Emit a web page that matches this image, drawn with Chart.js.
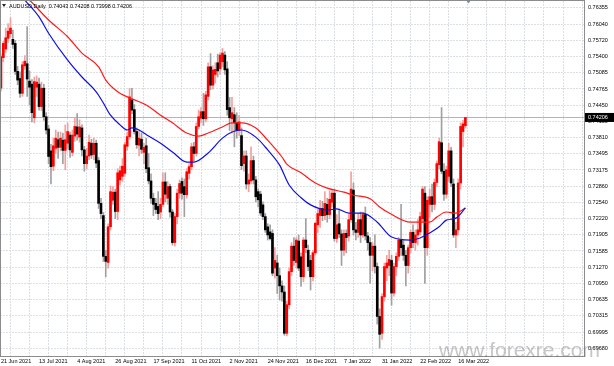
<!DOCTYPE html>
<html>
<head>
<meta charset="utf-8">
<script src="https://cdn.jsdelivr.net/npm/chart.js@4.4.1/dist/chart.umd.min.js"></script>
<style>
  html, body { margin: 0; padding: 0; background: #fff; }
  #wrap { width: 614px; height: 366px; }
</style>
</head>
<body>
<div id="wrap"><canvas id="chart" width="614" height="366"></canvas></div>
<script>
// header text and axis labels
const symbolTitle = "AUDUSD,Daily  0.74043 0.74208 0.73998 0.74206";
const dateLabels = ["21 Jun 2021", "13 Jul 2021", "4 Aug 2021", "26 Aug 2021", "17 Sep 2021",
  "11 Oct 2021", "2 Nov 2021", "24 Nov 2021", "16 Dec 2021", "7 Jan 2022",
  "31 Jan 2022", "22 Feb 2022", "16 Mar 2022"];
const priceTicks = [0.76355, 0.76040, 0.75720, 0.75400, 0.75085, 0.74765, 0.74450, 0.74130,
  0.73810, 0.73495, 0.73175, 0.72860, 0.72540, 0.72220, 0.71905, 0.71585, 0.71270,
  0.70950, 0.70635, 0.70315, 0.69995, 0.69680];
const lastPrice = 0.74206;

// daily candles, one per trading day from 21 Jun 2021 to 21 Mar 2022
const opens = [
  0.7478, 0.7538, 0.7555, 0.7576, 0.7585, 0.7574, 0.7566, 0.7511, 0.7497, 0.7468,
  0.7522, 0.7526, 0.7492, 0.7486, 0.7420, 0.7480, 0.7486, 0.7442, 0.7478, 0.7422,
  0.7398, 0.7355, 0.7325, 0.7360, 0.7377, 0.7362, 0.7376, 0.7356, 0.7370, 0.7386,
  0.7352, 0.7384, 0.7402, 0.7382, 0.7400, 0.7357, 0.7330, 0.7345, 0.7370, 0.7348,
  0.7370, 0.7336, 0.7252, 0.7228, 0.7148, 0.7136, 0.7206, 0.7258, 0.7274, 0.7236,
  0.7298, 0.7305, 0.7311, 0.7364, 0.7383, 0.7455, 0.7436, 0.7393, 0.7366, 0.7378,
  0.7352, 0.7365, 0.7322, 0.7296, 0.7262, 0.7252, 0.7246, 0.7235, 0.7250, 0.7294,
  0.7262, 0.7285, 0.7235, 0.7175, 0.7226, 0.7272, 0.7295, 0.7285, 0.7269, 0.7311,
  0.7324, 0.7363, 0.7350, 0.7403, 0.7419, 0.7432, 0.7418, 0.7462, 0.7520, 0.7484,
  0.7505, 0.7528, 0.7516, 0.7530, 0.7543, 0.7516, 0.7440, 0.7418, 0.7426, 0.7410,
  0.7395, 0.7385, 0.7330, 0.7345, 0.7290, 0.7296, 0.7336, 0.7298, 0.7275, 0.7270,
  0.7249, 0.7226, 0.7206, 0.7196, 0.7193, 0.7125, 0.7135, 0.7110, 0.7090, 0.7078,
  0.6997, 0.7053, 0.7118, 0.7168, 0.7136, 0.7178, 0.7147, 0.7108, 0.7180, 0.7160,
  0.7140, 0.7108, 0.7155, 0.7210, 0.7228, 0.7242, 0.7228, 0.7250, 0.7230, 0.7254,
  0.7272, 0.7183, 0.7212, 0.7192, 0.7160, 0.7193, 0.7188, 0.7220, 0.7278, 0.7200,
  0.7195, 0.7220, 0.7190, 0.7230, 0.7188, 0.7175, 0.7150, 0.7168, 0.7128, 0.7030,
  0.6997, 0.7069, 0.7125, 0.7130, 0.7140, 0.7076, 0.7128, 0.7148, 0.7180, 0.7170,
  0.7150, 0.7130, 0.7165, 0.7195, 0.7175, 0.7190, 0.7196, 0.7222, 0.7272, 0.7165,
  0.7250, 0.7265, 0.7250, 0.7293, 0.7328, 0.7371, 0.7315, 0.7270, 0.7305, 0.7355,
  0.7290, 0.7190, 0.7200, 0.7292, 0.7393, 0.74043
];
const highs = [
  0.7545, 0.7570, 0.7596, 0.7605, 0.7616, 0.7592, 0.7572, 0.7521, 0.7510, 0.7530,
  0.7542, 0.7599, 0.7512, 0.7495, 0.7500, 0.7502, 0.7498, 0.7490, 0.7486, 0.7430,
  0.7405, 0.7368, 0.7380, 0.7396, 0.7392, 0.7392, 0.7390, 0.7406, 0.7410, 0.7392,
  0.7396, 0.7420, 0.7428, 0.7416, 0.7406, 0.7364, 0.7360, 0.7386, 0.7378, 0.7380,
  0.7376, 0.7342, 0.7262, 0.7234, 0.7160, 0.7212, 0.7286, 0.7285, 0.7280, 0.7320,
  0.7325, 0.7340, 0.7372, 0.7392, 0.7478, 0.7478, 0.7446, 0.7400, 0.7395, 0.7390,
  0.7370, 0.7380, 0.7350, 0.7310, 0.7272, 0.7262, 0.7275, 0.7262, 0.7312, 0.7312,
  0.7295, 0.7290, 0.7240, 0.7232, 0.7280, 0.7298, 0.7302, 0.7300, 0.7320, 0.7330,
  0.7370, 0.7372, 0.7410, 0.7435, 0.7440, 0.7468, 0.7472, 0.7528, 0.7546, 0.7522,
  0.7528, 0.7545, 0.7548, 0.7556, 0.7550, 0.7530, 0.7460, 0.7460, 0.7440, 0.7430,
  0.7425, 0.7400, 0.7355, 0.7355, 0.7310, 0.7363, 0.7345, 0.7305, 0.7280, 0.7276,
  0.7255, 0.7232, 0.7212, 0.7210, 0.7200, 0.7165, 0.7150, 0.7125, 0.7100, 0.7090,
  0.7060, 0.7125, 0.7175, 0.7185, 0.7185, 0.7190, 0.7155, 0.7185, 0.7222, 0.7170,
  0.7150, 0.7160, 0.7215, 0.7240, 0.7258, 0.7256, 0.7275, 0.7262, 0.7277, 0.7278,
  0.7280, 0.7230, 0.7240, 0.7200, 0.7200, 0.7200, 0.7230, 0.7314, 0.7292, 0.7215,
  0.7232, 0.7235, 0.7235, 0.7245, 0.7195, 0.7185, 0.7175, 0.7190, 0.7135, 0.7045,
  0.7075, 0.7135, 0.7150, 0.7160, 0.7150, 0.7135, 0.7155, 0.7185, 0.7250, 0.7180,
  0.7160, 0.7170, 0.7200, 0.7210, 0.7200, 0.7220, 0.7235, 0.7285, 0.7285, 0.7265,
  0.7280, 0.7290, 0.7300, 0.7335, 0.7380, 0.7440, 0.7330, 0.7325, 0.7370, 0.7362,
  0.7300, 0.7215, 0.7300, 0.7410, 0.7415, 0.74208
];
const lows = [
  0.7472, 0.7530, 0.7548, 0.7568, 0.7578, 0.7556, 0.7505, 0.7485, 0.7460, 0.7462,
  0.7515, 0.7462, 0.7445, 0.7412, 0.7410, 0.7462, 0.7435, 0.7434, 0.7415, 0.7388,
  0.7330, 0.7290, 0.7316, 0.7350, 0.7340, 0.7355, 0.7330, 0.7318, 0.7360, 0.7342,
  0.7345, 0.7374, 0.7376, 0.7372, 0.7345, 0.7315, 0.7320, 0.7338, 0.7340, 0.7338,
  0.7322, 0.7242, 0.7222, 0.7138, 0.7108, 0.7125, 0.7200, 0.7250, 0.7222, 0.7220,
  0.7288, 0.7295, 0.7305, 0.7356, 0.7378, 0.7428, 0.7388, 0.7360, 0.7345, 0.7350,
  0.7330, 0.7312, 0.7290, 0.7252, 0.7228, 0.7232, 0.7220, 0.7222, 0.7245, 0.7255,
  0.7250, 0.7225, 0.7170, 0.7168, 0.7212, 0.7262, 0.7260, 0.7226, 0.7262, 0.7300,
  0.7318, 0.7335, 0.7345, 0.7398, 0.7410, 0.7405, 0.7412, 0.7455, 0.7475, 0.7476,
  0.7488, 0.7500, 0.7505, 0.7520, 0.7505, 0.7425, 0.7395, 0.7390, 0.7363, 0.7380,
  0.7385, 0.7318, 0.7315, 0.7280, 0.7275, 0.7290, 0.7290, 0.7255, 0.7245, 0.7228,
  0.7220, 0.7195, 0.7180, 0.7180, 0.7110, 0.7105, 0.7075, 0.7062, 0.7060, 0.6993,
  0.6992, 0.7045, 0.7110, 0.7130, 0.7125, 0.7120, 0.7089, 0.7098, 0.7155, 0.7120,
  0.7082, 0.7100, 0.7150, 0.7195, 0.7205, 0.7218, 0.7220, 0.7215, 0.7222, 0.7245,
  0.7178, 0.7175, 0.7185, 0.7130, 0.7150, 0.7155, 0.7178, 0.7215, 0.7190, 0.7180,
  0.7185, 0.7175, 0.7185, 0.7180, 0.7160, 0.7095, 0.7120, 0.7115, 0.7015, 0.6968,
  0.6985, 0.7060, 0.7100, 0.7110, 0.7052, 0.7070, 0.7110, 0.7140, 0.7150, 0.7140,
  0.7090, 0.7115, 0.7155, 0.7165, 0.7160, 0.7170, 0.7190, 0.7215, 0.7095, 0.7150,
  0.7225, 0.7235, 0.7240, 0.7285, 0.7320, 0.7310, 0.7258, 0.7262, 0.7295, 0.7285,
  0.7185, 0.7165, 0.7190, 0.7280, 0.7363, 0.73998
];
const closes = [
  0.7540, 0.7566, 0.7577, 0.7590, 0.7596, 0.7564, 0.7511, 0.7494, 0.7468, 0.7524,
  0.7531, 0.7496, 0.7480, 0.7430, 0.7491, 0.7490, 0.7442, 0.7478, 0.7422, 0.7396,
  0.7344, 0.7324, 0.7365, 0.7380, 0.7362, 0.7380, 0.7356, 0.7377, 0.7393, 0.7357,
  0.7386, 0.7403, 0.7388, 0.7402, 0.7357, 0.7330, 0.7345, 0.7372, 0.7347, 0.7370,
  0.7331, 0.7252, 0.7232, 0.7148, 0.7138, 0.7206, 0.7275, 0.7274, 0.7236, 0.7312,
  0.7316, 0.7325, 0.7367, 0.7383, 0.7461, 0.7435, 0.7393, 0.7367, 0.7380, 0.7358,
  0.7362, 0.7320, 0.7296, 0.7262, 0.7250, 0.7240, 0.7232, 0.7250, 0.7294, 0.7270,
  0.7285, 0.7235, 0.7175, 0.7226, 0.7272, 0.7291, 0.7272, 0.7269, 0.7314, 0.7324,
  0.7363, 0.7350, 0.7403, 0.7422, 0.7432, 0.7418, 0.7465, 0.7520, 0.7484, 0.7514,
  0.7515, 0.7512, 0.7543, 0.7547, 0.7514, 0.7436, 0.7420, 0.7430, 0.7410, 0.7395,
  0.7412, 0.7326, 0.7345, 0.7290, 0.7298, 0.7336, 0.7298, 0.7265, 0.7259, 0.7233,
  0.7226, 0.7200, 0.7190, 0.7183, 0.7115, 0.7140, 0.7110, 0.7090, 0.7078, 0.6997,
  0.7053, 0.7118, 0.7168, 0.7140, 0.7180, 0.7125, 0.7108, 0.7180, 0.7165, 0.7128,
  0.7108, 0.7155, 0.7213, 0.7232, 0.7242, 0.7228, 0.7252, 0.7230, 0.7260, 0.7272,
  0.7183, 0.7210, 0.7192, 0.7160, 0.7193, 0.7185, 0.7220, 0.7280, 0.7200, 0.7195,
  0.7220, 0.7190, 0.7230, 0.7188, 0.7175, 0.7150, 0.7168, 0.7128, 0.7030, 0.6995,
  0.7069, 0.7128, 0.7135, 0.7142, 0.7076, 0.7128, 0.7148, 0.7180, 0.7165, 0.7150,
  0.7130, 0.7165, 0.7195, 0.7175, 0.7190, 0.7200, 0.7226, 0.7280, 0.7165, 0.7258,
  0.7265, 0.7250, 0.7293, 0.7330, 0.7373, 0.7315, 0.7270, 0.7318, 0.7355, 0.7292,
  0.7190, 0.7200, 0.7292, 0.7403, 0.7408, 0.74206
];

// moving averages (bar index, price)
const slowMaBars = [0, 12, 20, 28, 34, 41, 44, 49, 53, 55, 61, 67, 72, 78, 83, 87, 93, 97,
  101, 107, 112, 118, 120, 126, 132, 137, 144, 148, 155, 159, 163, 172, 176, 180, 183,
  187, 191, 195];
const slowMa = [0.7702, 0.7651, 0.7612, 0.7579, 0.7547, 0.7520, 0.7494, 0.7471, 0.7461,
  0.7457, 0.7445, 0.7425, 0.7410, 0.7390, 0.7384, 0.7390, 0.7402, 0.7410, 0.7410, 0.7400,
  0.7376, 0.7343, 0.7329, 0.7312, 0.7292, 0.7282, 0.7274, 0.7268, 0.7261, 0.7245, 0.7233,
  0.7215, 0.7215, 0.7215, 0.7225, 0.7235, 0.7233, 0.7243];
const fastMaBars = [0, 10, 16, 20, 28, 34, 40, 43, 46, 50, 53, 55, 58, 62, 67, 72, 78, 81,
  87, 93, 97, 101, 107, 112, 117, 121, 126, 130, 137, 141, 146, 152, 158, 164, 172, 176,
  180, 184, 187, 191, 195];
const fastMa = [0.7705, 0.7651, 0.7618, 0.7586, 0.7533, 0.7500, 0.7471, 0.7449, 0.7425,
  0.7406, 0.7396, 0.7400, 0.7396, 0.7384, 0.7370, 0.7353, 0.7333, 0.7333, 0.7351, 0.7380,
  0.7392, 0.7396, 0.7382, 0.7357, 0.7327, 0.7288, 0.7263, 0.7249, 0.7239, 0.7241, 0.7233,
  0.7233, 0.7215, 0.7186, 0.7180, 0.7184, 0.7194, 0.7206, 0.7219, 0.7223, 0.7243];

const isUp = opens.map((o, i) => closes[i] >= o);
const wickData = opens.map((o, i) => ({ x: i, y: [lows[i], highs[i]] }));
const bodyData = opens.map((o, i) => ({ x: i, y: [o, closes[i]] }));

const gridBars = [];
for (let b = 0; b <= 240; b += 8) gridBars.push(b);

const FONT = "'Liberation Sans', Arial, sans-serif";

// frame, bid line, price box, header and watermark
const decor = {
  id: 'decor',
  beforeDatasetsDraw(chart) {
    const { ctx, chartArea: a, scales: { y } } = chart;
    const py = Math.round(y.getPixelForValue(lastPrice)) + 0.5;
    ctx.save();
    ctx.strokeStyle = '#b4b4b4';
    ctx.lineWidth = 1;
    ctx.beginPath();
    ctx.moveTo(a.left, py);
    ctx.lineTo(a.right, py);
    ctx.stroke();
    ctx.restore();
  },
  afterDraw(chart) {
    const { ctx, chartArea: a, scales: { x, y } } = chart;
    ctx.save();
    // chart border
    ctx.strokeStyle = '#8c8c8c';
    ctx.lineWidth = 1;
    ctx.strokeRect(a.left + 0.5, a.top - 0.5, a.right - a.left, a.bottom - a.top + 1);

    // current price box on the axis
    const py = y.getPixelForValue(lastPrice);
    ctx.fillStyle = '#000';
    ctx.fillRect(a.right + 1, py - 4.5, 614 - a.right - 1, 9);
    ctx.fillStyle = '#fff';
    ctx.font = '5.5px ' + FONT;
    ctx.textBaseline = 'middle';
    ctx.fillText(lastPrice.toFixed(5), a.right + 4, py + 0.5, 21);

    // header
    ctx.fillStyle = '#222';
    ctx.beginPath();
    ctx.moveTo(2, 4); ctx.lineTo(6, 4); ctx.lineTo(4, 7); ctx.closePath();
    ctx.fill();
    ctx.font = '6px ' + FONT;
    ctx.fillStyle = '#000';
    ctx.textBaseline = 'alphabetic';
    ctx.fillText(symbolTitle, 9, 8, 123);

    // chart shift marker
    const sx = x.getPixelForValue(196.3);
    ctx.fillStyle = '#7d8894';
    ctx.beginPath();
    ctx.moveTo(sx - 2.5, 0); ctx.lineTo(sx + 2.5, 0); ctx.lineTo(sx, 3.5); ctx.closePath();
    ctx.fill();

    // watermark
    ctx.font = '21px ' + FONT;
    ctx.fillStyle = 'rgba(120,120,120,0.42)';
    ctx.fillText('www.forexre.com', 439, 357, 168);
    ctx.restore();
  }
};

new Chart(document.getElementById('chart'), {
  type: 'bar',
  data: {
    datasets: [
      {
        type: 'line', label: 'MA fast',
        data: fastMaBars.map((b, k) => ({ x: b, y: fastMa[k] })),
        borderColor: '#1010e0', borderWidth: 1.2, pointRadius: 0,
        cubicInterpolationMode: 'monotone', order: 0
      },
      {
        type: 'line', label: 'MA slow',
        data: slowMaBars.map((b, k) => ({ x: b, y: slowMa[k] })),
        borderColor: '#ff1a1a', borderWidth: 1.2, pointRadius: 0,
        cubicInterpolationMode: 'monotone', order: 0
      },
      {
        label: 'body', data: bodyData,
        backgroundColor: isUp.map(u => (u ? '#ff0000' : '#000000')),
        barThickness: 2, minBarLength: 1, grouped: false, order: 1
      },
      {
        label: 'wick', data: wickData,
        backgroundColor: isUp.map(u => (u ? '#f2a0a0' : '#a0a0a0')),
        barThickness: 1, grouped: false, order: 2
      }
    ]
  },
  options: {
    responsive: false,
    animation: false,
    devicePixelRatio: 1,
    layout: { padding: { top: 1, left: 0, right: 0, bottom: 0 } },
    plugins: { legend: { display: false }, tooltip: { enabled: false } },
    scales: {
      x: {
        type: 'linear', min: -0.4, max: 244.8, offset: false,
        grid: { color: '#dcdfe3', drawTicks: false },
        border: { display: false, dash: [2, 1] },
        afterBuildTicks: s => { s.ticks = gridBars.map(v => ({ value: v })); },
        afterFit: s => { s.height = 10; s.paddingLeft = 0; s.paddingRight = 0; },
        ticks: {
          autoSkip: false, maxRotation: 0, align: 'start', padding: 2,
          color: '#000', font: { family: FONT, size: 5.5 },
          callback: v => (v % 16 === 0 && dateLabels[v / 16]) ? dateLabels[v / 16] : ''
        }
      },
      y: {
        type: 'linear', position: 'right', min: 0.69524, max: 0.76492,
        grid: { color: '#dcdfe3', drawTicks: false },
        border: { display: false, dash: [2, 1] },
        afterBuildTicks: s => { s.ticks = priceTicks.map(v => ({ value: v })); },
        afterFit: s => { s.width = 30; s.paddingTop = 0; s.paddingBottom = 0; },
        ticks: {
          autoSkip: false, padding: 4, color: '#000',
          font: { family: FONT, size: 5.5 },
          callback: v => v.toFixed(5)
        }
      }
    }
  },
  plugins: [decor]
});
</script>
</body>
</html>
